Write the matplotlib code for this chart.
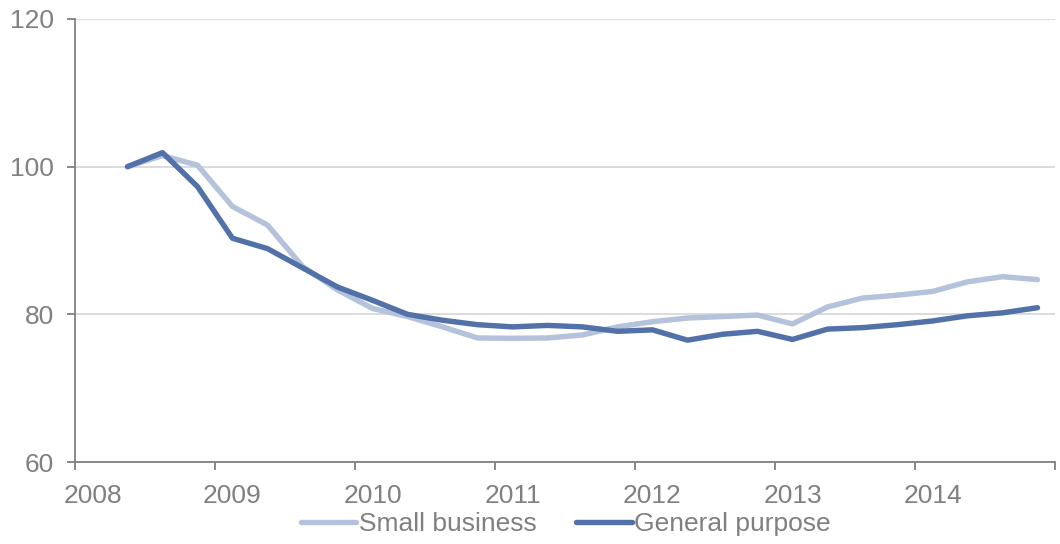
import matplotlib
matplotlib.use('Agg')
import matplotlib.pyplot as plt
import numpy as np

plt.rcParams['font.family'] = ['Liberation Sans', 'DejaVu Sans']

# quarterly categories 2008 Q1 .. 2014 Q4; series start in 2008 Q2
years = ['2008', '2009', '2010', '2011', '2012', '2013', '2014']
small_business = [100.0, 101.5, 100.2, 94.6, 92.1, 86.5, 83.3, 80.8, 79.7, 78.3,
                  76.8, 76.75, 76.8, 77.2, 78.3, 79.0, 79.5, 79.7, 79.9, 78.7,
                  81.0, 82.2, 82.6, 83.1, 84.4, 85.1, 84.7]
general_purpose = [100.0, 101.9, 97.3, 90.3, 88.9, 86.3, 83.7, 81.9, 80.0, 79.2,
                   78.6, 78.3, 78.5, 78.3, 77.7, 77.9, 76.5, 77.3, 77.7, 76.6,
                   78.0, 78.2, 78.6, 79.1, 79.8, 80.2, 80.9]

grey = '#808080'
light = '#B4C2DC'
dark = '#5171A8'
fs = 19

x = np.arange(1, 1 + len(small_business))

fig = plt.figure(figsize=(10.6, 5.44), dpi=100)
ax = fig.add_axes([75 / 1060, 1 - 462 / 544, 980 / 1060, 443 / 544])

ax.plot(x, small_business, color=light, lw=3.9, label='Small business',
        solid_joinstyle='round', solid_capstyle='round')
ax.plot(x, general_purpose, color=dark, lw=3.9, label='General purpose',
        solid_joinstyle='round', solid_capstyle='round')

ax.set_xlim(-0.5, 27.5)
ax.set_ylim(60, 120)
ax.set_yticks([60, 80, 100, 120])
ax.yaxis.grid(True, color='#D9D9D9', lw=1.3)
ax.set_axisbelow(True)

ax.set_xticks(np.arange(-0.5, 28, 4))
ax.set_xticklabels([])
ax.set_xticks(np.arange(0, 28, 4), minor=True)
ax.set_xticklabels(years, minor=True)
ax.tick_params(axis='x', which='major', length=6, width=1.3, color=grey, direction='out')
ax.tick_params(axis='x', which='minor', length=0, pad=16, labelsize=fs, labelcolor=grey)
ax.tick_params(axis='y', length=6, width=1.3, color=grey, pad=9, labelsize=fs, labelcolor=grey)

for s in ['top', 'right']:
    ax.spines[s].set_visible(False)
for s in ['left', 'bottom']:
    ax.spines[s].set_color(grey)
    ax.spines[s].set_linewidth(1.3)

fig.legend(loc='center', bbox_to_anchor=(0.534, 0.036), ncol=2, frameon=False,
           fontsize=fs, labelcolor=grey, handlelength=2.1, handletextpad=0.1,
           columnspacing=1.5, borderaxespad=0)

fig.savefig('out.png', dpi=100)
